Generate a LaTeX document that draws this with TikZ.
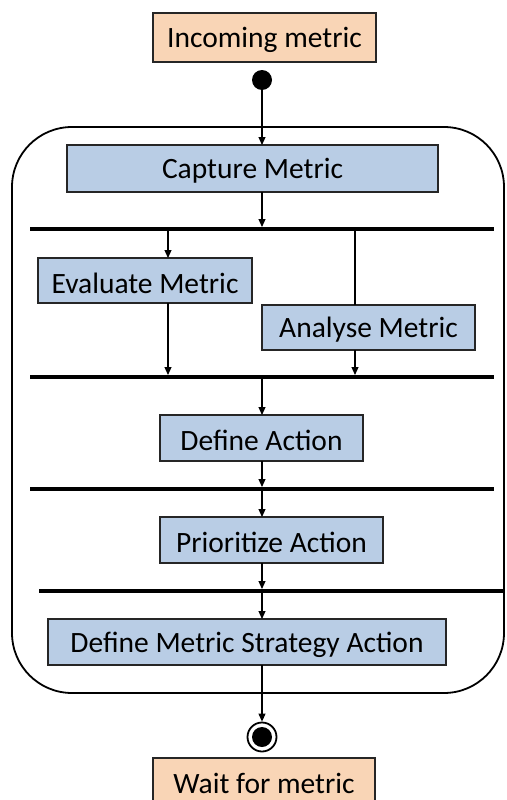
\documentclass[tikz,border=0pt]{standalone}
\usepackage{fontspec}
\setmainfont{Carlito}
\usetikzlibrary{arrows.meta}
\definecolor{peach}{HTML}{F9D5B6}
\definecolor{actblue}{HTML}{B9CDE5}
\begin{document}
\begin{tikzpicture}[x=1pt,y=-1pt,
  act/.style={draw=black!85,line width=1.3pt,fill=actblue,inner sep=0pt},
  ext/.style={draw=black!85,line width=1.3pt,fill=peach,inner sep=0pt},
  bar/.style={line width=4pt},
  flow/.style={line width=1.1pt,-{Triangle[length=8pt,width=7pt]}},
  plain/.style={line width=1.1pt},
  lbl/.style={font=\fontsize{29.5}{34}\selectfont,inner sep=0pt,yshift=-2.5pt}]
\useasboundingbox (0,0) rectangle (506,800);
\clip (0,0) rectangle (506,800);
% outer region
\draw[line width=1.8pt,rounded corners=60pt] (12,127) rectangle (504,693);
% boxes
\node[ext,minimum width=223pt,minimum height=49pt] (in) at (264.5,37.5) {};
\node[lbl] at (in) {Incoming metric};
\node[circle,fill=black,minimum size=20pt,inner sep=0pt] (st) at (262,80) {};
\node[act,minimum width=371pt,minimum height=47pt] (cap) at (252.5,168.5) {};
\node[lbl] at (cap) {Capture Metric};
\node[act,minimum width=214pt,minimum height=45pt] (eval) at (145,280.5) {};
\node[lbl] at (eval) {Evaluate Metric};
\node[act,minimum width=213pt,minimum height=45pt] (ana) at (368.5,327.5) {};
\node[lbl] at (ana) {Analyse Metric};
\node[act,minimum width=203pt,minimum height=46pt] (def) at (261.5,438) {};
\node[lbl] at (def) {Define Action};
\node[act,minimum width=223pt,minimum height=46pt] (pri) at (271.5,540) {};
\node[lbl] at (pri) {Prioritize Action};
\node[act,minimum width=398pt,minimum height=46pt] (dms) at (247,642) {};
\node[lbl] at (dms) {Define Metric Strategy Action};
\node[ext,minimum width=222pt,minimum height=50pt] (wait) at (264,783) {};
\node[lbl,anchor=center] at (264,781) {Wait for metric};
% end node
\node[circle,draw=black,line width=1.8pt,minimum size=29pt,inner sep=0pt] (end) at (262,737) {};
\fill (end.center) circle (10pt);
% bars
\coordinate (b1l) at (30,229); \coordinate (b1r) at (494,229);
\coordinate (b2l) at (30,377); \coordinate (b2r) at (494,377);
\coordinate (b3l) at (30,489); \coordinate (b3r) at (494,489);
\coordinate (b4l) at (39,591); \coordinate (b4r) at (504,591);
\draw[bar] (b1l) -- (b1r);
\draw[bar] (b2l) -- (b2r);
\draw[bar] (b3l) -- (b3r);
\draw[bar] (b4l) -- (b4r);
% connectors
\draw[flow] (st) -- (262,145);
\draw[flow] (262,192) -- (262,227);
\draw[flow] (168,229) -- (168,258);
\draw[plain] (355,229) -- (355,305);
\draw[flow] (168,303) -- (168,375);
\draw[flow] (355,350) -- (355,375);
\draw[flow] (262,377) -- (262,415);
\draw[flow] (262,461) -- (262,487);
\draw[flow] (262,489) -- (262,517);
\draw[flow] (262,563) -- (262,589);
\draw[flow] (262,591) -- (262,619);
\draw[flow] (262,665) -- (end);
\end{tikzpicture}
\end{document}
